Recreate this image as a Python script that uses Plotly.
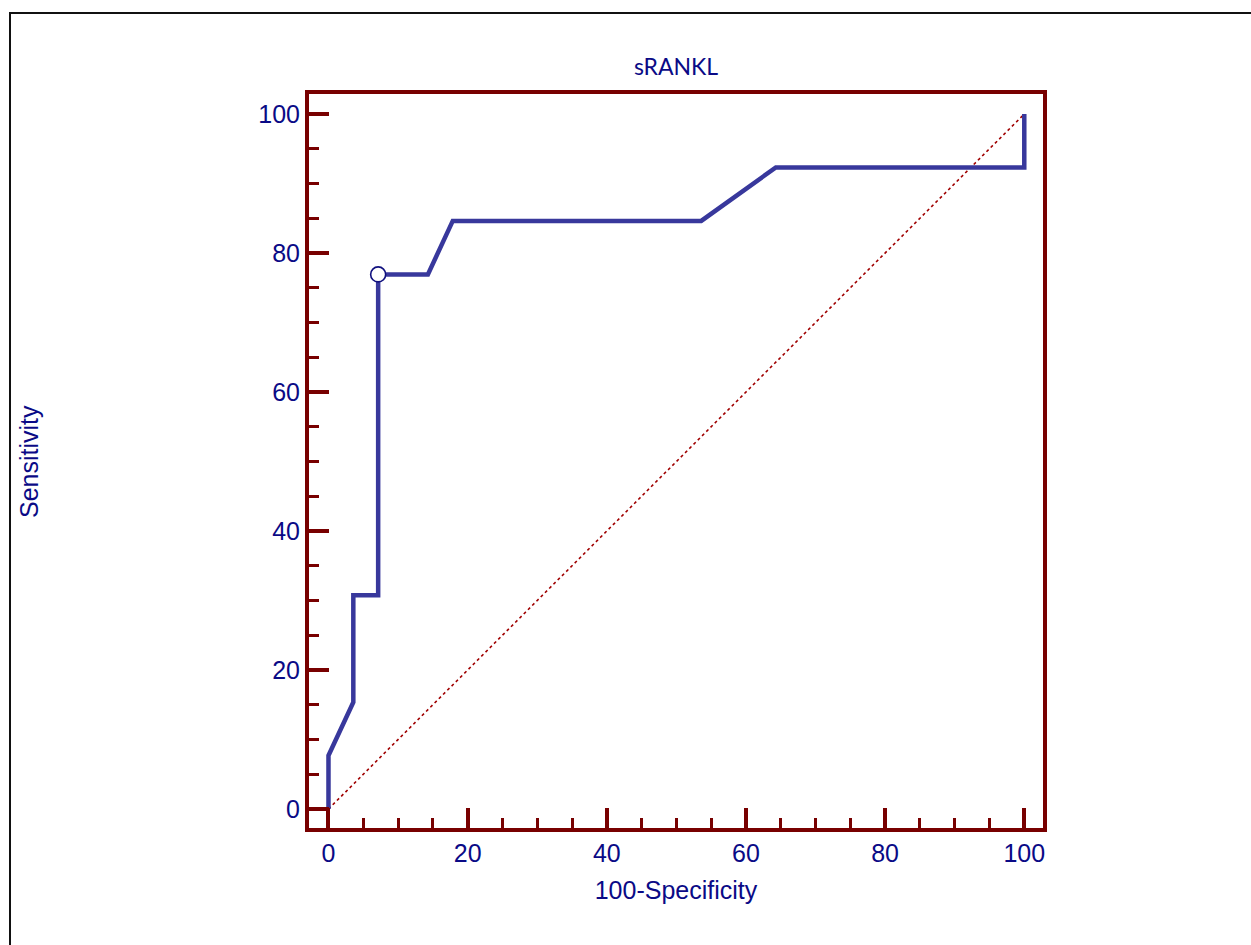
import plotly.graph_objects as go

# ROC curve for sRANKL (28 negatives, 13 positives)
fpr = [0, 0, 3.57, 3.57, 7.14, 7.14, 14.29, 17.86, 53.57, 64.29, 100, 100]
sens = [0, 7.69, 15.38, 30.77, 30.77, 76.92, 76.92, 84.62, 84.62, 92.31, 92.31, 100]

# Optimal cut-off point (Youden index)
cut_x = [7.14]
cut_y = [76.92]

# Reference line of no discrimination
diag_x = [0, 100]
diag_y = [0, 100]

major_ticks = [0, 20, 40, 60, 80, 100]

AXIS_RED = "#780000"
TEXT_BLUE = "#0a0a86"
CURVE_BLUE = "#38389c"
SANS = "Liberation Sans, Arial, sans-serif"

W, H = 1251, 945
ML, MR, MT, MB = 309, 208, 94, 117
PW, PH = W - ML - MR, H - MT - MB


def px_to_paper_x(px):
    return (px - ML) / PW


def px_to_paper_y(py):
    return (H - MB - py) / PH


fig = go.Figure()

fig.add_trace(go.Scatter(
    x=diag_x, y=diag_y, mode="lines",
    line=dict(color="#a00000", width=1.6, dash="dot"),
    hoverinfo="skip", showlegend=False,
))

fig.add_trace(go.Scatter(
    x=fpr, y=sens, mode="lines",
    line=dict(color=CURVE_BLUE, width=4.5),
    showlegend=False,
))

fig.add_trace(go.Scatter(
    x=cut_x, y=cut_y, mode="markers",
    marker=dict(symbol="circle", size=15, color="white",
                line=dict(color="#10107e", width=1.6)),
    showlegend=False,
))

axis_common = dict(
    showgrid=False, zeroline=False,
    showline=True, linecolor=AXIS_RED, linewidth=4, mirror=True,
    ticks="inside", ticklen=20, tickwidth=4, tickcolor=AXIS_RED,
    tickvals=major_ticks,
    tickfont=dict(family=SANS, size=25, color=TEXT_BLUE),
    minor=dict(dtick=5, ticks="inside", ticklen=10, tickwidth=3, tickcolor=AXIS_RED),
)

fig.update_xaxes(
    range=[-2.80, 102.69],
    title=dict(text="100-Specificity", standoff=16,
               font=dict(family=SANS, size=25, color=TEXT_BLUE)),
    **axis_common,
)
fig.update_yaxes(range=[-2.73, 102.88], **axis_common)

# y-axis title placed near the left edge of the graphic
fig.add_annotation(
    text="Sensitivity", textangle=-90,
    xref="paper", yref="paper",
    x=px_to_paper_x(29), y=px_to_paper_y(462),
    xanchor="center", yanchor="middle", showarrow=False,
    font=dict(family=SANS, size=25, color=TEXT_BLUE),
)

# Outer frame around the whole graphic
fig.add_shape(
    type="rect", xref="paper", yref="paper",
    x0=px_to_paper_x(10), x1=px_to_paper_x(1270),
    y0=px_to_paper_y(965), y1=px_to_paper_y(13),
    line=dict(color="#111111", width=2), fillcolor="rgba(0,0,0,0)",
    layer="below",
)

fig.update_layout(
    width=W, height=H,
    margin=dict(l=ML, r=MR, t=MT, b=MB, pad=0),
    paper_bgcolor="white", plot_bgcolor="white",
    title=dict(text="sRANKL", x=(ML + PW / 2) / W, xanchor="center",
               y=1 - 67 / H, yanchor="middle",
               font=dict(family="Lato, Open Sans, sans-serif", size=23, color=TEXT_BLUE)),
)

fig.write_html("out.html")
